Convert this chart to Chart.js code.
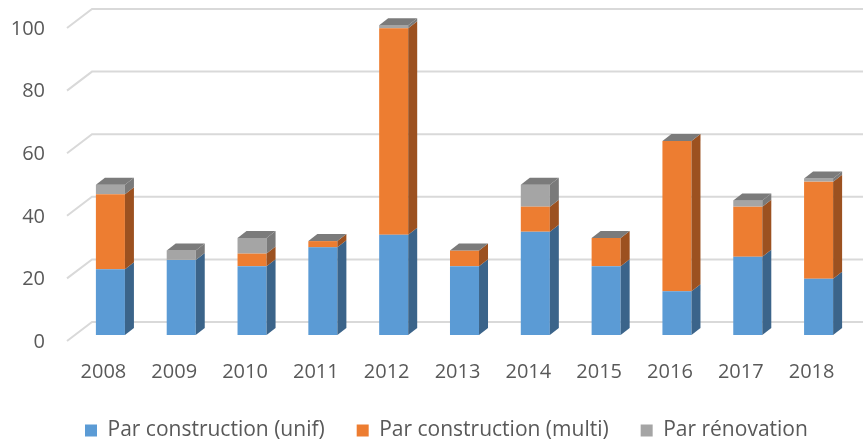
<!DOCTYPE html>
<html>
<head>
<meta charset="utf-8">
<script src="https://cdn.jsdelivr.net/npm/chart.js@4.4.0/dist/chart.umd.min.js"></script>
<style>
    html, body { margin: 0; padding: 0; background: #fff; }
    #wrap { width: 863px; height: 445px; }
</style>
</head>
<body>
<div id="wrap"><canvas id="chart"></canvas></div>
<script>
const years = ['2008', '2009', '2010', '2011', '2012', '2013', '2014', '2015', '2016', '2017', '2018'];
const unif = [21, 24, 22, 28, 32, 22, 33, 22, 14, 25, 18];
const multi = [24, 0, 4, 2, 66, 5, 8, 9, 48, 16, 31];
const renov = [3, 3, 5, 0, 1, 0, 7, 0, 0, 2, 1];
const yTicks = [0, 20, 40, 60, 80, 100];

const seriesNames = ['Par construction (unif)', 'Par construction (multi)', 'Par rénovation'];
const frontColors = ['#5b9bd5', '#ed7d31', '#a5a5a5'];
const sideColors = ['#3b648a', '#9c5120', '#7a7a7a'];
const topColor = '#7b7b7b';

// fake 3D: depth of the bars and of the back wall
const DX = 9, DY = -7;

const depthPlugin = {
    id: 'depth',
    afterLayout(chart) {
        // legend sits right of centre in the original
        chart.legend.left += 53;
    },
    beforeDatasetsDraw(chart) {
        const { ctx, chartArea, scales: { y } } = chart;
        ctx.save();
        ctx.strokeStyle = '#d9d9d9';
        ctx.lineWidth = 2;
        yTicks.forEach(v => {
            const py = y.getPixelForValue(v);
            ctx.beginPath();
            ctx.moveTo(chartArea.left - 8, py + 6);
            ctx.lineTo(chartArea.left + 17, py - 13);
            ctx.lineTo(chart.width, py - 13);
            ctx.stroke();
        });
        ctx.restore();
    },
    afterDatasetsDraw(chart) {
        const ctx = chart.ctx;
        const n = chart.data.datasets.length;
        ctx.save();
        for (let d = 0; d < n; d++) {
            const meta = chart.getDatasetMeta(d);
            meta.data.forEach(bar => {
                const { x, y, base, width } = bar.getProps(['x', 'y', 'base', 'width'], true);
                const r = x + width / 2;
                if (base - y > 0.5) {
                    ctx.fillStyle = sideColors[d];
                    ctx.beginPath();
                    ctx.moveTo(r, y);
                    ctx.lineTo(r + DX, y + DY);
                    ctx.lineTo(r + DX, base + DY);
                    ctx.lineTo(r, base);
                    ctx.closePath();
                    ctx.fill();
                }
                if (d === n - 1) {
                    const l = x - width / 2;
                    ctx.fillStyle = topColor;
                    ctx.beginPath();
                    ctx.moveTo(l, y);
                    ctx.lineTo(l + DX, y + DY);
                    ctx.lineTo(r + DX, y + DY);
                    ctx.lineTo(r, y);
                    ctx.closePath();
                    ctx.fill();
                }
            });
        }
        ctx.restore();
    }
};

const values = [unif, multi, renov];

new Chart(document.getElementById('chart'), {
    type: 'bar',
    data: {
        labels: years,
        datasets: values.map((vals, i) => ({
            label: seriesNames[i],
            data: vals,
            backgroundColor: frontColors[i],
            borderWidth: 0,
            barPercentage: 0.41,
            categoryPercentage: 1
        }))
    },
    options: {
        responsive: true,
        maintainAspectRatio: false,
        animation: false,
        layout: { padding: { top: 22, right: 9, left: 0, bottom: -6 } },
        plugins: {
            tooltip: { enabled: false },
            legend: {
                position: 'bottom',
                align: 'start',
                labels: {
                    color: '#595959',
                    font: { family: 'Open Sans', size: 21 },
                    boxWidth: 12,
                    boxHeight: 12,
                    padding: 32
                }
            }
        },
        scales: {
            x: {
                stacked: true,
                grid: { display: false },
                border: { display: false },
                ticks: {
                    color: '#595959',
                    font: { family: 'Open Sans', size: 20 },
                    labelOffset: -7,
                    padding: 17
                },
                afterFit(scale) { scale.height = 53; }
            },
            y: {
                stacked: true,
                min: 0,
                max: 100,
                grid: { display: false },
                border: { display: false },
                ticks: {
                    stepSize: 20,
                    color: '#595959',
                    font: { family: 'Open Sans', size: 20 },
                    labelOffset: 7,
                    padding: 22
                },
                afterFit(scale) {
                    scale.width = 75;
                    scale.paddingTop = 0;
                    scale.paddingBottom = 0;
                }
            }
        }
    },
    plugins: [depthPlugin]
});
</script>
</body>
</html>
